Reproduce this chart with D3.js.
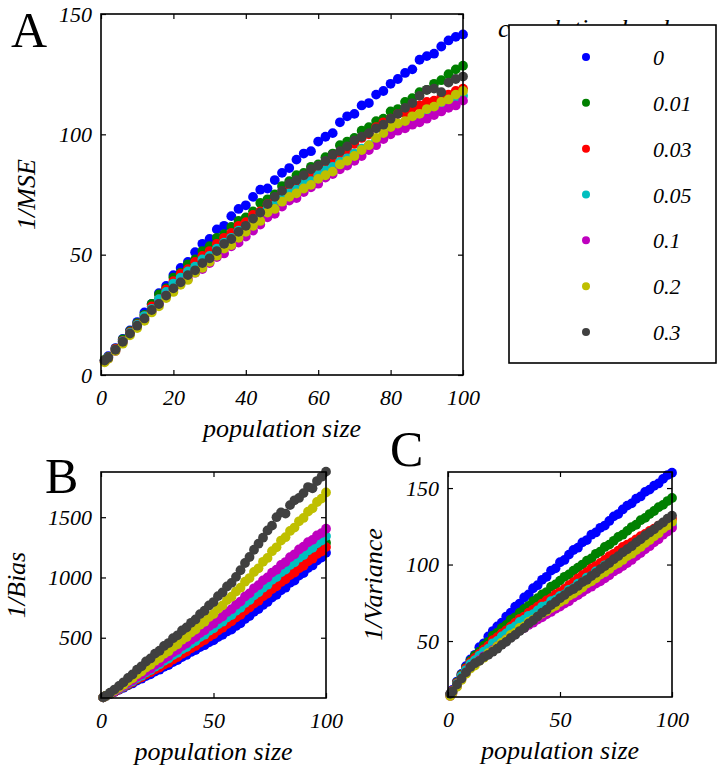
<!DOCTYPE html>
<html><head><meta charset="utf-8">
<script src="https://cdn.jsdelivr.net/npm/d3@7"></script>
<style>
body{margin:0;background:#fff}
</style>
</head><body>
<svg id="chart" width="723" height="775"></svg>
<script>
// ---------------- data ----------------
const populationSize = [1,2,4,6,8,10,12,14,16,18,20,22,24,26,28,30,32,34,36,38,40,42,44,46,48,50,52,54,56,58,60,62,64,66,68,70,72,74,76,78,80,82,84,86,88,90,92,94,96,98,100];
const correlationLevels = ["0","0.01","0.03","0.05","0.1","0.2","0.3"];
const seriesColors = ["#0000ff","#008000","#ff0000","#00bfbf","#bf00bf","#bfbf00","#404040"];

// Panel A : 1/MSE, one array per correlation level
const invMSE = [
 [6,7.8,11.2,15,18.5,22,26,29.5,34,37,41.5,44.5,47,51,54.5,56.5,60.5,62,66,69,70.5,74,77,77.5,81,84,86,89.5,92,93,97,99,100.5,105,107.5,108.5,112,113,116.5,118,121,123,125.5,127,131,132.5,133.5,136.5,139,140.5,141.5],
 [6.3,7.5,11,14.8,18.2,21.5,25,29.5,33.5,36,40.5,42.5,46,48,51.5,53.5,57,58.5,61.5,64,65.5,68,71.5,73,75,78.5,80.5,83,84,86.5,87.5,90.5,92,95.5,97,98.5,101.5,103,105.5,106.5,109.5,110.5,113.5,115,117.5,118.5,121,122.5,125,127,128.5],
 [6,7.3,10.8,14.2,17.8,21,24.5,28.5,31.5,35.5,39,42,44,47,49.5,51.5,54.5,57,59,62,63.5,66.5,68,71,72.5,75,77.5,78.5,81,83.5,84.5,87,89.5,92,93.5,96,98.5,100,103,105,106.5,108.5,109,111,112,113.5,114,115.5,116.5,118,119],
 [5.8,7.2,10.5,14,17.5,20.8,24.5,27.5,31.5,34.5,38,40.5,43,45,48,49.5,52.5,55,57,60,61.5,64.5,66,69,70.5,73,75.5,77,79.5,80.5,83,85,86.5,88.5,90,92,94,95.5,97.5,99,101,102.5,104.5,105.5,107.5,109,110.5,111.5,113.5,114.5,116],
 [5.5,6.8,10,13.5,17,20,23,26.5,29.5,33,35.5,38.5,40,42.5,44,46.5,49,50.5,53.5,55,57.5,60,62.5,65.5,67,70,72.5,73.5,76,78,79.5,82,83.5,85.5,87,89,91,93.5,95.5,98,100,101.5,102.5,104,105,106.5,108,109.5,111,112,114],
 [5.3,6.7,10,13,16.5,19.5,22.5,26,28.5,32,34.5,37.5,39.5,42.5,44.5,47,49.5,52.5,54,57,59.5,62,64,67.5,69,72,74,75.5,77.5,79,81.5,83,84.5,87.5,89,91,93.5,95.5,98.5,100.5,103,104.5,105.5,107.5,108.5,110.5,111.5,113.5,114.5,116.5,118],
 [6,7.2,10.5,13.8,17.2,20.5,23.5,27,29.5,33,36,38.5,41.5,43.5,46.5,48.5,51.5,54.5,56.5,59.5,62,65,67.5,71,74,76.5,79.5,81,83,85.5,87,89,91.5,93,95,97.5,99,100.5,102.5,104,106.5,108.5,111,113,116,118.5,119,117.5,121.5,123,124]
];

// Panel B : 1/Bias
const invBias = [
 [5,14,32,50,68,85,105,121,144,160,182,197,220,235,258,273,298,315,340,357,382,398,423,438,462,478,505,524,552,568,598,620,656,680,715,738,772,797,834,856,893,915,955,975,1015,1036,1078,1100,1140,1165,1205],
 [5,15,34,53,72,90,110,136,154,180,198,222,238,262,278,303,322,350,370,398,418,446,466,494,514,542,565,598,622,655,678,712,738,773,797,833,860,897,922,961,987,1024,1046,1084,1106,1143,1166,1204,1227,1264,1288],
 [5,14,33,52,71,90,112,130,155,172,197,214,237,253,277,293,320,339,366,385,412,432,460,480,508,528,560,582,614,636,668,690,726,750,784,806,843,866,904,926,963,985,1020,1040,1076,1097,1134,1156,1195,1215,1252],
 [5,15,35,55,75,95,120,139,166,185,212,232,260,280,308,327,356,375,405,423,452,473,505,525,557,578,611,633,667,688,723,748,788,812,852,877,915,940,980,1004,1044,1066,1104,1126,1164,1186,1224,1246,1284,1306,1343],
 [5,16,37,58,79,100,126,146,175,194,222,243,275,295,327,348,379,400,431,451,483,505,539,561,595,618,654,676,714,737,774,800,842,868,910,936,976,1000,1040,1064,1104,1128,1168,1192,1232,1256,1292,1312,1348,1368,1404],
 [5,17,40,63,86,110,140,163,197,219,253,275,309,331,366,387,424,446,484,506,543,568,608,632,672,697,740,768,812,840,884,915,965,995,1046,1076,1130,1162,1218,1250,1306,1334,1386,1414,1466,1494,1546,1574,1626,1654,1705],
 [5,18,44,70,100,130,166,195,235,263,303,328,368,392,432,456,496,520,560,585,624,652,696,724,768,796,845,876,925,955,1005,1060,1120,1170,1230,1280,1330,1390,1430,1500,1540,1530,1600,1640,1660,1700,1750,1740,1800,1835,1878]
];

// Panel C : 1/Variance
const invVariance = [
 [15,18,23.5,28.5,33.5,38,41,46,48.5,53,56.5,59.5,62,66,68.5,72.5,74.5,78.5,80.5,84.5,86.5,90,92,96,97.5,101.5,103,106.5,109.5,111,114.5,116,119.5,121,124,125.5,128.5,131.5,133,136,138.5,140,143,144.5,147.5,149,151.5,153,156,158.5,160],
 [15,17.5,23,28,32.5,37,40.5,43,47,49.5,53.5,55.5,58.5,60.5,64,65.5,68.5,71,73,76,78,80.5,82,85.5,87,89.5,92,93.5,96,98,100,102.5,104,107,108.5,111.5,113,115.5,118,119.5,122,124.5,126,129,130.5,133,135,137.5,139,141.5,143.5],
 [15,17.5,22.5,27.5,32,36,39,41.5,44.5,47,50.5,52.5,55,57,59.5,62,64.5,66,68.5,70.5,72.5,74.5,76.5,78,80.5,82,84,86.5,88.5,91,93,95,97.5,99,101,103,105.5,107,109,111.5,113,114.5,116.5,118.5,120,122,123.5,125.5,126.5,128.5,130],
 [14.5,17,22,27,31,35,37.5,40.5,43,45,48.5,50,53,55,58,59.5,62.5,64,66.5,67.5,70,72.5,73,76,77,79.5,80.5,83.5,84.5,87.5,88.5,91.5,92.5,95.5,96.5,99.5,100.5,103,104,106.5,107.5,110.5,111,114,114.5,117.5,118.5,121,122,124.5,126],
 [14,16,20.5,25,29,33,35,37.5,40,41.5,44,46.5,48,51,52.5,55,57,58.5,60.5,62,64,65.5,67.5,69,71,72.5,74.5,76,78.5,80,82,84,85.5,87.5,89,91,93,95.5,97,99,101,103,105.5,107.5,110,112,114.5,116.5,119.5,121.5,124],
 [14,16,20,24.5,28.5,32,34,37,39,42,43.5,46.5,49,51,54,55.5,58.5,59.5,62.5,64,66,68,69.5,71.5,73,75.5,77,79.5,81,83,85,87.5,89,91,93.5,95,97,99.5,101,103,105.5,107,109.5,111.5,114,116,118.5,120.5,123.5,125.5,128],
 [15.5,17,21.5,25.5,29.5,33,35.5,37,39.5,41,43,45,47.5,49.5,52,54,56.5,58.5,61.5,63.5,66,68.5,70.5,73.5,75.5,78,80,82.5,84,86,88.5,90,92.5,94.5,97,99,101,103.5,105.5,108,110,112,114.5,116.5,119,121,123,125.5,127.5,130,132]
];

const xTicksA = [0,20,40,60,80,100];
const yTicksA = [0,50,100,150];
const xTicksBC = [0,50,100];
const yTicksB = [500,1000,1500];
const yTicksC = [50,100,150];

// ---------------- drawing ----------------
const svg = d3.select("#chart");
const FONT = "'Liberation Serif', 'Times New Roman', Tinos, 'Nimbus Roman', 'DejaVu Serif', 'Noto Serif', serif";

function panel(cfg) {
  const x = d3.scaleLinear().domain(cfg.xDomain).range([cfg.left, cfg.right]);
  const y = d3.scaleLinear().domain(cfg.yDomain).range([cfg.bottom, cfg.top]);
  const g = svg.append("g").attr("font-family", FONT);

  cfg.data.forEach((series, si) => {
    g.append("g").selectAll("circle")
      .data(series.map((v, i) => [populationSize[i], v]))
      .join("circle")
      .attr("cx", d => x(d[0]))
      .attr("cy", d => y(d[1]))
      .attr("r", 4.9)
      .attr("fill", seriesColors[si]);
  });

  const styleAxis = sel => {
    sel.select(".domain").remove();
    sel.attr("font-family", FONT).attr("font-size", 22).attr("font-style", "italic");
    sel.selectAll("line").attr("stroke", "#000").attr("stroke-width", 1.2);
    sel.selectAll("text").attr("fill", "#000");
  };

  g.append("g").attr("transform", `translate(0,${cfg.bottom})`)
    .call(d3.axisBottom(x).tickValues(cfg.xTicks).tickSize(-5).tickPadding(14).tickFormat(d3.format("d")))
    .call(styleAxis);
  g.append("g").attr("transform", `translate(0,${cfg.top})`)
    .call(d3.axisTop(x).tickValues(cfg.xTicks).tickSize(-5).tickFormat(""))
    .call(styleAxis);
  g.append("g").attr("transform", `translate(${cfg.left},0)`)
    .call(d3.axisLeft(y).tickValues(cfg.yTicks).tickSize(-5).tickPadding(9).tickFormat(d3.format("d")))
    .call(styleAxis);
  g.append("g").attr("transform", `translate(${cfg.right},0)`)
    .call(d3.axisRight(y).tickValues(cfg.yTicks).tickSize(-5).tickFormat(""))
    .call(styleAxis);

  g.append("rect")
    .attr("x", cfg.left).attr("y", cfg.top)
    .attr("width", cfg.right - cfg.left).attr("height", cfg.bottom - cfg.top)
    .attr("fill", "none").attr("stroke", "#000").attr("stroke-width", 1.6);

  g.append("text")
    .attr("x", (cfg.left + cfg.right) / 2).attr("y", cfg.bottom + 62)
    .attr("text-anchor", "middle").attr("font-size", 26).attr("font-style", "italic")
    .text("population size");
  g.append("text")
    .attr("transform", `translate(${cfg.yTitleX},${(cfg.top + cfg.bottom) / 2}) rotate(-90)`)
    .attr("text-anchor", "middle").attr("font-size", 26).attr("font-style", "italic")
    .text(cfg.yTitle);

  g.append("text")
    .attr("x", cfg.letterX).attr("y", cfg.letterY)
    .attr("font-size", 50)
    .text(cfg.letter);
}

panel({ data: invMSE, xDomain: [0,100], yDomain: [0,150], left: 101, right: 463, top: 14, bottom: 375,
  xTicks: xTicksA, yTicks: yTicksA, yTitle: "1/MSE", yTitleX: 35, letter: "A", letterX: 11, letterY: 47 });
panel({ data: invBias, xDomain: [0,100], yDomain: [0,1875], left: 101, right: 326, top: 472, bottom: 698,
  xTicks: xTicksBC, yTicks: yTicksB, yTitle: "1/Bias", yTitleX: 25, letter: "B", letterX: 45, letterY: 493 });
panel({ data: invVariance, xDomain: [0,100], yDomain: [13.4,160.5], left: 448, right: 672, top: 472, bottom: 697,
  xTicks: xTicksBC, yTicks: yTicksC, yTitle: "1/Variance", yTitleX: 382, letter: "C", letterX: 390, letterY: 466 });

// ---------------- legend ----------------
const leg = svg.append("g").attr("font-family", FONT);
leg.append("text")
  .attr("x", 498).attr("y", 37)
  .attr("font-size", 26).attr("font-style", "italic")
  .text("correlation level");
leg.append("rect")
  .attr("x", 509).attr("y", 25).attr("width", 207).attr("height", 338)
  .attr("fill", "#fff").attr("stroke", "#000").attr("stroke-width", 1.6);
const rowY = d3.scalePoint().domain(correlationLevels).range([57, 332]);
correlationLevels.forEach((lab, i) => {
  leg.append("circle").attr("cx", 586).attr("cy", rowY(lab)).attr("r", 4).attr("fill", seriesColors[i]);
  leg.append("text").attr("x", 653).attr("y", rowY(lab) + 8)
    .attr("font-size", 22).attr("font-style", "italic").text(lab);
});
</script>
</body></html>
